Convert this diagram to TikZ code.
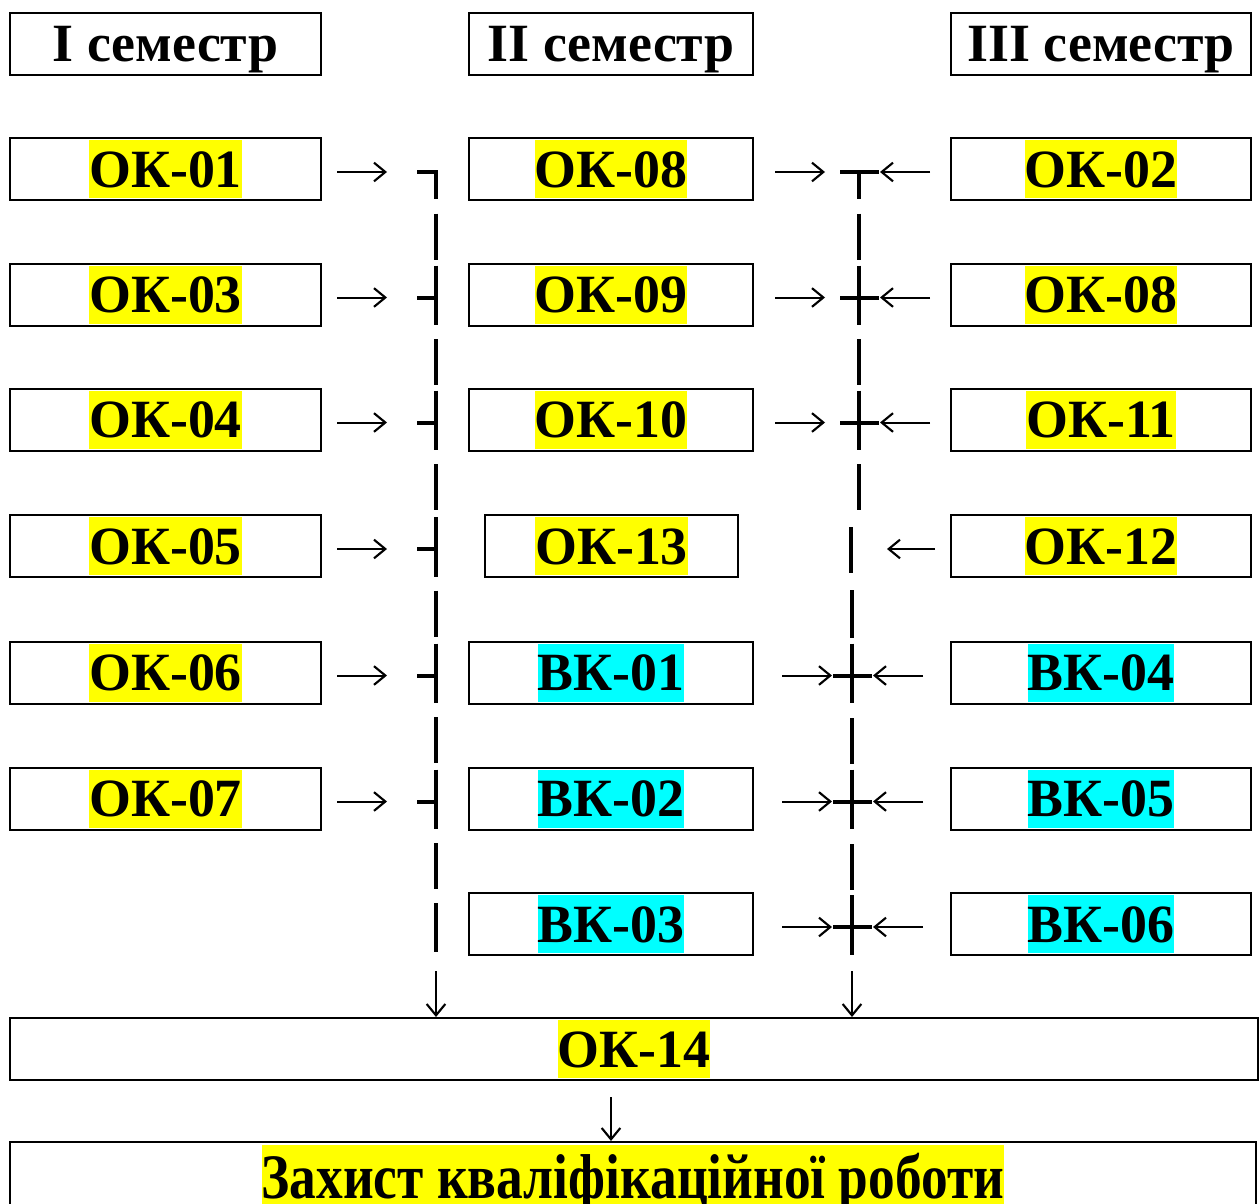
\documentclass[tikz,border=0pt]{standalone}
\usepackage{fontspec}
\setmainfont{Liberation Serif}
\usetikzlibrary{arrows.meta,calc}
\definecolor{hly}{RGB}{255,255,0}
\definecolor{hlc}{RGB}{0,255,255}
\newcommand\hlbox[2]{{\setlength{\fboxsep}{0pt}\colorbox{#1}{\rule[-7.9pt]{0pt}{43.5pt}#2}}}
\newcommand\plainlabel[1]{\rule[-7.9pt]{0pt}{43.5pt}#1}
\begin{document}
\begin{tikzpicture}[x=0.75pt,y=-0.75pt,
  box/.style={draw,line width=1.5pt,inner sep=0pt,minimum height=46.5pt,
    font=\fontsize{40.4}{46}\selectfont\bfseries},
  wA/.style={minimum width=233.25pt},
  wB/.style={minimum width=213pt},
  wC/.style={minimum width=225pt},
  tl/.style={line width=3pt},
  arr/.style={line width=1.5pt,-{Straight Barb[length=8.5pt,width=14pt,line width=1.6pt]}}]
\clip (0,0) rectangle (1260,1203);
\fill[white] (0,0) rectangle (1260,1203);
% headers
\node[box,wA] (h1) at (165.5,43.5) {\plainlabel{I семестр}};
\node[box,wB] (h2) at (611,43.5) {\plainlabel{II семестр}};
\node[box,wC] (h3) at (1101,43.5) {\plainlabel{III семестр}};
% column 1
\node[box,wA] (a1) at (165.5,169) {\hlbox{hly}{ОК-01}};
\node[box,wA] (a2) at (165.5,294.5) {\hlbox{hly}{ОК-03}};
\node[box,wA] (a3) at (165.5,419.5) {\hlbox{hly}{ОК-04}};
\node[box,wA] (a4) at (165.5,546) {\hlbox{hly}{ОК-05}};
\node[box,wA] (a5) at (165.5,672.5) {\hlbox{hly}{ОК-06}};
\node[box,wA] (a6) at (165.5,798.5) {\hlbox{hly}{ОК-07}};
% column 2
\node[box,wB] (b1) at (611,169) {\hlbox{hly}{ОК-08}};
\node[box,wB] (b2) at (611,294.5) {\hlbox{hly}{ОК-09}};
\node[box,wB] (b3) at (611,419.5) {\hlbox{hly}{ОК-10}};
\node[box,minimum width=189.75pt] (b4) at (611.5,546) {\hlbox{hly}{ОК-13}};
\node[box,wB] (b5) at (611,672.5) {\hlbox{hlc}{ВК-01}};
\node[box,wB] (b6) at (611,798.5) {\hlbox{hlc}{ВК-02}};
\node[box,wB] (b7) at (611,924) {\hlbox{hlc}{ВК-03}};
% column 3
\node[box,wC] (c1) at (1101,169) {\hlbox{hly}{ОК-02}};
\node[box,wC] (c2) at (1101,294.5) {\hlbox{hly}{ОК-08}};
\node[box,wC] (c3) at (1101,419.5) {\hlbox{hly}{ОК-11}};
\node[box,wC] (c4) at (1101,546) {\hlbox{hly}{ОК-12}};
\node[box,wC] (c5) at (1101,672.5) {\hlbox{hlc}{ВК-04}};
\node[box,wC] (c6) at (1101,798.5) {\hlbox{hlc}{ВК-05}};
\node[box,wC] (c7) at (1101,924) {\hlbox{hlc}{ВК-06}};
% bottom
\node[box,minimum width=936pt] (ok14) at (634,1049) {\hlbox{hly}{ОК-14}};
\node[box,minimum width=934.5pt,minimum height=55pt] (fin) at (633,1178.65)
  {{\setlength{\fboxsep}{0pt}\colorbox{hly}{\rule[-10pt]{0pt}{50.5pt}\resizebox{557pt}{\height}{\fontsize{47.5}{54}\selectfont\bfseries Захист кваліфікаційної роботи}}}};

% ---- left collector line
\coordinate (L1) at (436,172);
\draw[tl] (417,172) -- (L1) -- (436,199);
\draw[arr] (337,172) -- (387,172);
\foreach \c in {294.5,419.5,546,672.5,798.5}{
  \draw[tl] (436,\c-29) -- (436,\c+30.5);
  \draw[tl] (417,\c+3) -- (436,\c+3);
  \draw[arr] (337,\c+3) -- (387,\c+3);
}
\foreach \c in {169,294.5,419.5,546,672.5,798.5}{
  \draw[tl] (436,\c+44.5) -- (436,\c+90.5);
}
\draw[tl] (436,903) -- (436,952);
\coordinate (Lb) at (436,971);
\draw[arr] (Lb) -- (Lb |- ok14.north);

% ---- right collector line
\coordinate (R1) at (859,172);
\draw[tl] (840,172) -- (879,172);
\draw[tl] (R1) -- (859,199);
\draw[arr] (775,172) -- (825,172);
\draw[arr] (930,172) -- (880,172);
\foreach \c in {294.5,419.5}{
  \draw[tl] (859,\c-29) -- (859,\c+30.5);
  \draw[tl] (840,\c+3) -- (879,\c+3);
  \draw[arr] (775,\c+3) -- (825,\c+3);
  \draw[arr] (930,\c+3) -- (880,\c+3);
}
\foreach \c in {169,294.5,419.5}{
  \draw[tl] (859,\c+44.5) -- (859,\c+90.5);
}
\draw[tl] (851,527) -- (851,573);
\draw[arr] (935,549) -- (887,549);
\draw[tl] (852,590) -- (852,638);
\foreach \c in {672.5,798.5,924}{
  \draw[tl] (852,\c-29) -- (852,\c+30.5);
  \draw[tl] (833,\c+3) -- (872,\c+3);
  \draw[arr] (782,\c+3) -- (832,\c+3);
  \draw[arr] (923,\c+3) -- (873,\c+3);
}
\foreach \c in {672.5,798.5}{
  \draw[tl] (852,\c+45.5) -- (852,\c+91.5);
}
\coordinate (Rb) at (852,971);
\draw[arr] (Rb) -- (Rb |- ok14.north);

% ---- to final
\coordinate (Fb) at (611,1097);
\draw[arr] (Fb) -- (Fb |- fin.north);
\end{tikzpicture}
\end{document}
